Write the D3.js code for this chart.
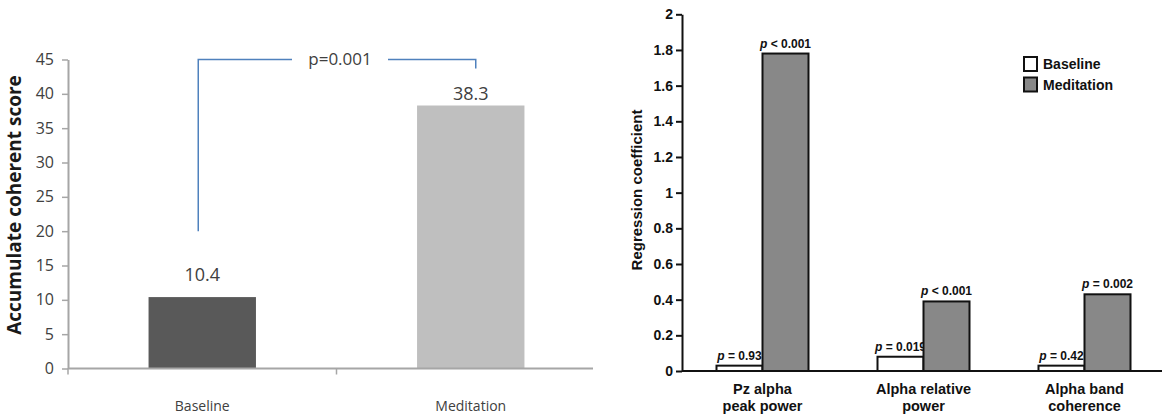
<!DOCTYPE html>
<html>
<head>
<meta charset="utf-8">
<script src="https://cdn.jsdelivr.net/npm/d3@7"></script>
<style>
  html, body { margin: 0; padding: 0; background: #fff; }
  svg { display: block; }
</style>
</head>
<body>
<svg id="chart" width="1162" height="417"></svg>
<script>
// left panel: accumulated coherent score
const leftCats = ["Baseline", "Meditation"];
const leftValues = [10.4, 38.3];
const leftTicks = [0, 5, 10, 15, 20, 25, 30, 35, 40, 45];
const leftPText = "p=0.001";
const leftBracket = [20, 45, 43.7]; // left foot, top, right foot (score units)

// right panel: regression coefficients
const rightCats = [["Pz alpha", "peak power"], ["Alpha relative", "power"], ["Alpha band", "coherence"]];
const seriesNames = ["Baseline", "Meditation"];
const baselineCoef = [0.03, 0.08, 0.03];
const meditationCoef = [1.78, 0.39, 0.43];
const baselineP = ["= 0.93", "= 0.019", "= 0.42"];
const meditationP = ["< 0.001", "< 0.001", "= 0.002"];
const rightTicks = [0, 0.2, 0.4, 0.6, 0.8, 1, 1.2, 1.4, 1.6, 1.8, 2];

const svg = d3.select("#chart");

// ---------- left chart ----------
const leftColors = ["#595959", "#bfbfbf"];
const leftGap = [16, 6];
const lg = svg.append("g");

const ly = d3.scaleLinear().domain([0, 45]).range([368.5, 59.5]);
const lx = d3.scaleBand().domain(leftCats).range([68, 605])
  .paddingInner(0.6).paddingOuter(0.3);

const lyAxis = lg.append("g")
  .attr("transform", "translate(68,0)")
  .call(d3.axisLeft(ly).tickValues(leftTicks).tickSize(6).tickSizeOuter(0).tickPadding(8));
lyAxis.select(".domain").attr("stroke", "#a6a6a6").attr("stroke-width", 2);
lyAxis.selectAll(".tick line").attr("stroke", "#a6a6a6").attr("stroke-width", 1.5);
lyAxis.selectAll(".tick text")
  .attr("fill", "#404040")
  .style("font-family", "'Open Sans', sans-serif")
  .style("font-size", "16px");

lg.selectAll("rect.bar")
  .data(leftValues)
  .enter()
  .append("rect")
  .attr("class", "bar")
  .attr("x", (d, i) => lx(leftCats[i]))
  .attr("width", lx.bandwidth())
  .attr("y", d => ly(d))
  .attr("height", d => ly(0) - ly(d))
  .attr("fill", (d, i) => leftColors[i]);

// x axis line + boundary ticks
lg.append("line")
  .attr("x1", 68).attr("x2", 593)
  .attr("y1", ly(0)).attr("y2", ly(0))
  .attr("stroke", "#a6a6a6").attr("stroke-width", 2);
lg.selectAll("line.xtick")
  .data(leftCats)
  .enter()
  .append("line")
  .attr("class", "xtick")
  .attr("x1", d => lx(d) - lx.step() * lx.paddingOuter())
  .attr("x2", d => lx(d) - lx.step() * lx.paddingOuter())
  .attr("y1", ly(0)).attr("y2", ly(0) + 6)
  .attr("stroke", "#a6a6a6").attr("stroke-width", 1.5);

lg.selectAll("text.xlab")
  .data(leftCats)
  .enter()
  .append("text")
  .attr("class", "xlab")
  .attr("x", d => lx(d) + lx.bandwidth() / 2)
  .attr("y", 411)
  .attr("text-anchor", "middle")
  .attr("fill", "#404040")
  .style("font-family", "'Open Sans', sans-serif")
  .style("font-size", "14px")
  .text(d => d);

lg.selectAll("text.vlab")
  .data(leftValues)
  .enter()
  .append("text")
  .attr("class", "vlab")
  .attr("x", (d, i) => lx(leftCats[i]) + lx.bandwidth() / 2)
  .attr("y", (d, i) => ly(d) - leftGap[i])
  .attr("text-anchor", "middle")
  .attr("fill", "#404040")
  .style("font-family", "'Open Sans', sans-serif")
  .style("font-size", "18px")
  .text(d => d);

// significance bracket
const bxL = lx(leftCats[0]) + lx.bandwidth() / 2 - 4;
const bxR = lx(leftCats[1]) + lx.bandwidth() / 2 + 5;
const bMid = (bxL + bxR) / 2 - 1;
const bracket = d3.path();
bracket.moveTo(bxL, ly(leftBracket[0]));
bracket.lineTo(bxL, ly(leftBracket[1]));
bracket.lineTo(bMid - 44, ly(leftBracket[1]));
bracket.moveTo(bMid + 52, ly(leftBracket[1]));
bracket.lineTo(bxR, ly(leftBracket[1]));
bracket.lineTo(bxR, ly(leftBracket[2]));
lg.append("path")
  .attr("d", bracket.toString())
  .attr("fill", "none")
  .attr("stroke", "#4f81bd")
  .attr("stroke-width", 1.5);
lg.append("text")
  .attr("x", bMid + 4)
  .attr("y", ly(leftBracket[1]) + 5)
  .attr("text-anchor", "middle")
  .attr("fill", "#404040")
  .style("font-family", "'Open Sans', sans-serif")
  .style("font-size", "17px")
  .text(leftPText);

lg.append("text")
  .attr("transform", "translate(21,205) rotate(-90)")
  .attr("text-anchor", "middle")
  .attr("fill", "#1a1a1a")
  .style("font-family", "'Open Sans', sans-serif")
  .style("font-weight", "bold")
  .style("font-size", "19px")
  .text("Accumulate coherent score");

// ---------- right chart ----------
const rg = svg.append("g");
const font2 = "'Liberation Sans', Arial, sans-serif";
const seriesFill = ["#ffffff", "#888888"];

const ry = d3.scaleLinear().domain([0, 2]).range([371, 14.3]);
const rx0 = d3.scaleBand().domain(d3.range(rightCats.length)).range([682, 1165])
  .paddingInner(69 / 161).paddingOuter(69 / 322);
const rx1 = d3.scaleBand().domain(seriesNames).range([0, rx0.bandwidth()]);

const ryAxis = rg.append("g")
  .attr("transform", "translate(682,0)")
  .call(d3.axisLeft(ry).tickValues(rightTicks).tickFormat(d => String(d))
    .tickSize(6).tickSizeOuter(0).tickPadding(3));
ryAxis.select(".domain").attr("stroke", "#111").attr("stroke-width", 2);
ryAxis.selectAll(".tick line").attr("stroke", "#111").attr("stroke-width", 2);
ryAxis.selectAll(".tick text")
  .attr("fill", "#111")
  .style("font-family", font2)
  .style("font-weight", "bold")
  .style("font-size", "14px");

const series = [
  { name: seriesNames[0], values: baselineCoef, p: baselineP, fill: seriesFill[0] },
  { name: seriesNames[1], values: meditationCoef, p: meditationP, fill: seriesFill[1] }
];

series.forEach(s => {
  rg.selectAll(null)
    .data(s.values)
    .enter()
    .append("rect")
    .attr("x", (d, i) => rx0(i) + rx1(s.name))
    .attr("width", rx1.bandwidth())
    .attr("y", d => ry(d))
    .attr("height", d => ry(0) - ry(d))
    .attr("fill", s.fill)
    .attr("stroke", "#111")
    .attr("stroke-width", 2);

  const pl = rg.selectAll(null)
    .data(s.values)
    .enter()
    .append("text")
    .attr("x", (d, i) => rx0(i) + rx1(s.name) + rx1.bandwidth() / 2)
    .attr("y", d => ry(d) - 6)
    .attr("text-anchor", "middle")
    .attr("fill", "#111")
    .style("font-family", font2)
    .style("font-weight", "bold")
    .style("font-size", "12px");
  pl.append("tspan").style("font-style", "italic").text("p");
  pl.append("tspan").text((d, i) => " " + s.p[i]);
});

// x axis line
rg.append("line")
  .attr("x1", 682).attr("x2", 1162)
  .attr("y1", ry(0)).attr("y2", ry(0))
  .attr("stroke", "#111").attr("stroke-width", 2);

const cl = rg.selectAll("text.cat")
  .data(rightCats)
  .enter()
  .append("text")
  .attr("class", "cat")
  .attr("text-anchor", "middle")
  .attr("fill", "#111")
  .style("font-family", font2)
  .style("font-weight", "bold")
  .style("font-size", "14.5px");
cl.selectAll("tspan")
  .data((d, i) => d.map(t => ({ t, i })))
  .enter()
  .append("tspan")
  .attr("x", d => rx0(d.i) + rx0.bandwidth() / 2)
  .attr("y", (d, j) => 394 + j * 17)
  .text(d => d.t);

rg.append("text")
  .attr("transform", "translate(642,190) rotate(-90)")
  .attr("text-anchor", "middle")
  .attr("fill", "#111")
  .style("font-family", font2)
  .style("font-weight", "bold")
  .style("font-size", "15px")
  .text("Regression coefficient");

// legend
const leg = rg.append("g").attr("transform", "translate(1024,57)");
const li = leg.selectAll("g")
  .data(series)
  .enter()
  .append("g")
  .attr("transform", (d, i) => `translate(0,${i * 20.5})`);
li.append("rect")
  .attr("width", 13).attr("height", 14)
  .attr("fill", d => d.fill)
  .attr("stroke", "#111").attr("stroke-width", 2);
li.append("text")
  .attr("x", 19).attr("y", 12)
  .attr("fill", "#111")
  .style("font-family", font2)
  .style("font-weight", "bold")
  .style("font-size", "14px")
  .text(d => d.name);
</script>
</body>
</html>
